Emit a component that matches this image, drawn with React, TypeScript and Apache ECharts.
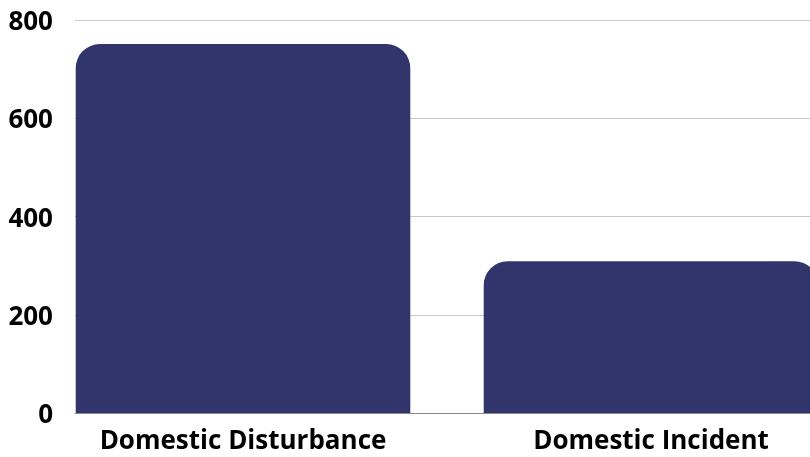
import React, { useEffect, useRef } from "react";
import * as echarts from "echarts";

const categories = ["Domestic Disturbance", "Domestic Incident"];
const values = [751, 309];
const yMin = 0;
const yMax = 800;
const yInterval = 200;

export default function App() {
  const ref = useRef<HTMLDivElement>(null);
  useEffect(() => {
    if (!ref.current) return;
    const chart = echarts.init(ref.current, null, { renderer: "svg" });
    const font = "'Open Sans', 'Noto Sans', sans-serif";
    chart.setOption({
      animation: false,
      grid: [
        { left: 39, width: 816, top: 20, bottom: 44, containLabel: false, outerBoundsMode: "none" },
        { left: 75, right: 0, top: 20, bottom: 44, containLabel: false, outerBoundsMode: "none" },
      ],
      xAxis: [
        {
          type: "category",
          gridIndex: 0,
          data: categories,
          axisLine: { show: false },
          axisTick: { show: false },
          axisLabel: {
            color: "#000",
            fontFamily: font,
            fontWeight: "bold",
            fontSize: 26,
            margin: 13,
          },
        },
        {
          type: "value",
          gridIndex: 1,
          min: 0,
          max: 1,
          axisLine: { show: true, onZero: false, lineStyle: { color: "#888", width: 1 } },
          axisTick: { show: false },
          axisLabel: { show: false },
          splitLine: { show: false },
        },
      ],
      yAxis: [
        {
          type: "value",
          gridIndex: 0,
          min: yMin,
          max: yMax,
          interval: yInterval,
          show: false,
        },
        {
          type: "value",
          gridIndex: 1,
          min: yMin,
          max: yMax,
          interval: yInterval,
          axisLine: { show: false },
          axisTick: { show: false },
          axisLabel: {
            color: "#000",
            fontFamily: font,
            fontWeight: "bold",
            fontSize: 26,
            margin: 22,
          },
          splitLine: { show: true, lineStyle: { color: "#c8c8c8", width: 1 } },
        },
      ],
      series: [
        {
          type: "bar",
          xAxisIndex: 0,
          yAxisIndex: 0,
          data: values,
          barCategoryGap: "18%",
          itemStyle: { color: "#32356b", borderRadius: [24, 24, 0, 0] },
        },
      ],
    });
    return () => chart.dispose();
  }, []);
  return (
    <div
      ref={ref}
      style={{ position: "fixed", left: 0, top: 0, width: 810, height: 457 }}
    />
  );
}
